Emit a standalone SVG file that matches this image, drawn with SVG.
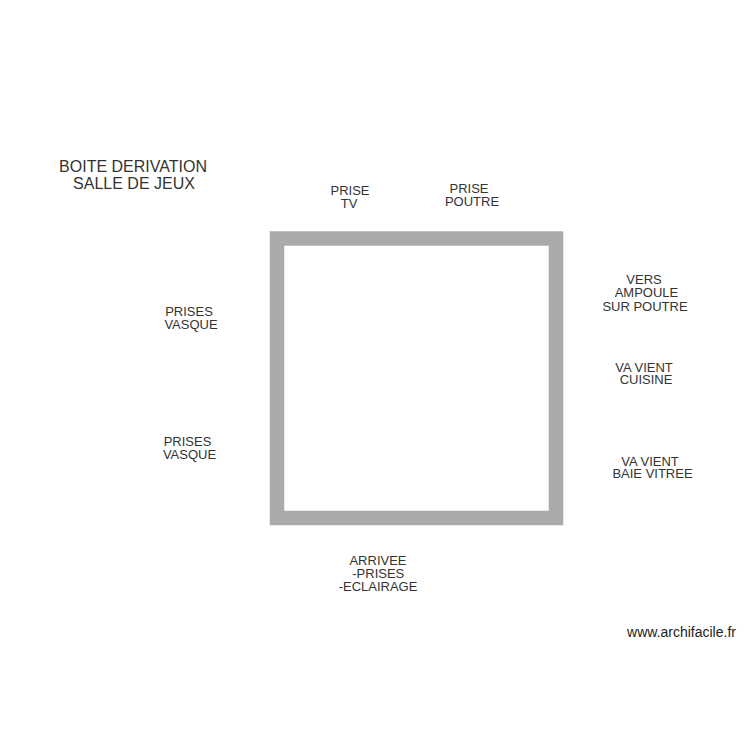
<svg xmlns="http://www.w3.org/2000/svg" width="750" height="750" viewBox="0 0 750 750">
<style>
text{font-family:"Liberation Sans",Arial,sans-serif;fill:#333;text-anchor:middle}
.s{font-size:13px}
.t{font-size:16px}
.w{font-size:14px;fill:#222}
</style>
<rect width="750" height="750" fill="#fff"/>
<rect id="boite" x="277" y="238.5" width="279" height="279.5" fill="none" stroke="#aaaaaa" stroke-width="14.5"/>
<g id="titre"><text class="t" x="133" y="171.5">BOITE DERIVATION</text><text class="t" x="134" y="189">SALLE DE JEUX</text></g>
<g id="prise-tv"><text class="s" x="350" y="195">PRISE</text><text class="s" x="349" y="208.3">TV</text></g>
<g id="prise-poutre"><text class="s" x="469" y="193.3">PRISE</text><text class="s" x="472" y="206.3">POUTRE</text></g>
<g id="prises-vasque-1"><text class="s" x="189" y="316">PRISES</text><text class="s" x="191" y="328.6">VASQUE</text></g>
<g id="prises-vasque-2"><text class="s" x="187.5" y="446">PRISES</text><text class="s" x="189.5" y="458.5">VASQUE</text></g>
<g id="ampoule"><text class="s" x="644" y="284">VERS</text><text class="s" x="646.5" y="297.3">AMPOULE</text><text class="s" x="645" y="310.6">SUR POUTRE</text></g>
<g id="va-vient-cuisine"><text class="s" x="644" y="371.7">VA VIENT</text><text class="s" x="646" y="384.3">CUISINE</text></g>
<g id="va-vient-baie"><text class="s" x="650" y="465.8">VA VIENT</text><text class="s" x="652.5" y="478.4">BAIE VITREE</text></g>
<g id="arrivee"><text class="s" x="378" y="565">ARRIVEE</text><text class="s" x="378.3" y="577.6">-PRISES</text><text class="s" x="378" y="590.6">-ECLAIRAGE</text></g>
<text class="w" x="681.5" y="637">www.archifacile.fr</text>
</svg>
